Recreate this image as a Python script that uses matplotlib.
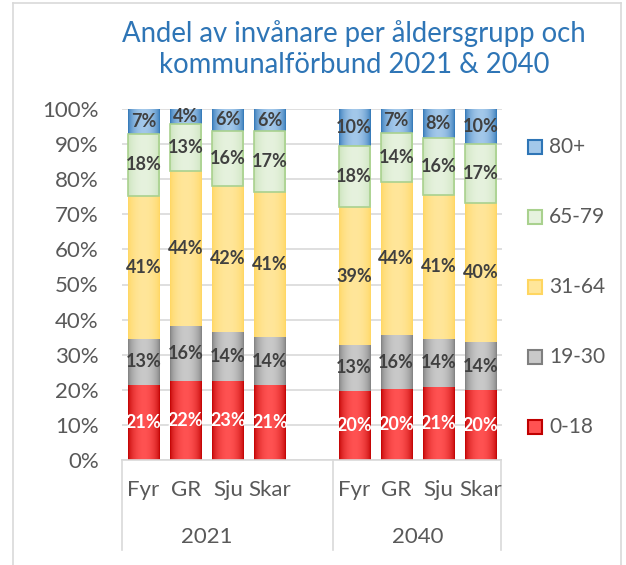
import numpy as np
import matplotlib.pyplot as plt
from matplotlib.patches import Rectangle
from matplotlib.lines import Line2D
from matplotlib.colors import to_rgb

plt.rcParams['font.family'] = ['Lato', 'DejaVu Sans']

years = ["2021", "2040"]
regions = ["Fyr", "GR", "Sju", "Skar"]
age_groups = ["0-18", "19-30", "31-64", "65-79", "80+"]

# andel (%) per åldersgrupp, ordning: Fyr, GR, Sju, Skar
share_2021 = {
    "0-18":  [21.4, 22.4, 22.6, 21.3],
    "19-30": [13.1, 15.8, 14.0, 13.7],
    "31-64": [40.7, 44.2, 41.6, 41.3],
    "65-79": [17.7, 13.2, 15.6, 17.3],
    "80+":   [7.1, 4.4, 6.2, 6.4],
}
share_2040 = {
    "0-18":  [19.8, 20.1, 20.8, 19.9],
    "19-30": [13.0, 15.6, 13.8, 13.6],
    "31-64": [39.2, 43.6, 41.0, 39.7],
    "65-79": [17.6, 13.9, 16.0, 16.8],
    "80+":   [10.4, 6.8, 8.4, 10.0],
}

# (kant, mitt) för gradient, kantlinje, etikettfärg
styles = {
    "0-18":  ("#C00000", "#FF5252", None, "white"),
    "19-30": ("#7F7F7F", "#C9C9C9", None, "#404040"),
    "31-64": ("#FFD660", "#FFE69A", None, "#404040"),
    "65-79": ("#C9E2B8", "#E6F2DE", "#A9D18E", "#404040"),
    "80+":   ("#2E75B6", "#A3C8EA", None, "#404040"),
}

W, H = 626, 565
fig = plt.figure(figsize=(W / 100, H / 100), dpi=100)
ax = fig.add_axes([122.5 / W, 1 - 460 / H, 379 / W, 351 / H])

positions = [0, 1, 2, 3, 5, 6, 7, 8]
width = 0.74
tt = np.linspace(0, 1, 64)
mix = np.sin(np.pi * tt) ** 0.6


def gradient(edge, center):
    e = np.array(to_rgb(edge))
    c = np.array(to_rgb(center))
    img = e[None, :] * (1 - mix[:, None]) + c[None, :] * mix[:, None]
    return img[None, :, :]


for yi, data in enumerate([share_2021, share_2040]):
    bottoms = np.zeros(len(regions))
    for grp in age_groups:
        vals = np.array(data[grp]) / 100
        edge, center, border, lblc = styles[grp]
        img = gradient(edge, center)
        for i, v in enumerate(vals):
            x = positions[yi * 4 + i]
            b = bottoms[i]
            ax.imshow(img, extent=(x - width / 2, x + width / 2, b, b + v),
                      aspect='auto', zorder=2, interpolation='bilinear')
            if border:
                ax.add_patch(Rectangle((x - width / 2, b), width, v, fill=False,
                                       edgecolor=border, lw=1.2, zorder=3))
            ax.text(x, b + v / 2, f"{round(v * 100):.0f}%", ha='center', va='center',
                    fontsize=13, fontweight='bold', color=lblc, zorder=4)
        bottoms += vals

ax.set_xlim(-0.5, 8.5)
ax.set_ylim(0, 1)
ax.set_yticks(np.arange(0, 1.01, 0.1))
ax.set_yticklabels([f"{int(round(t * 100))}%" for t in np.arange(0, 1.01, 0.1)])
ax.tick_params(axis='y', length=0, pad=17, labelsize=16, labelcolor='#595959')
ax.set_xticks([])
ax.grid(axis='y', color='#D9D9D9', lw=1.2, zorder=0)
ax.set_axisbelow(True)
for s in ['top', 'right', 'left']:
    ax.spines[s].set_visible(False)
ax.spines['bottom'].set_color('#D9D9D9')
ax.spines['bottom'].set_linewidth(1.2)

# kategoritabell under axeln
tr = ax.get_xaxis_transform()
for yi, yr in enumerate(years):
    for i, r in enumerate(regions):
        ax.text(positions[yi * 4 + i], -0.085, r, transform=tr, ha='center', va='center',
                fontsize=16, color='#595959', clip_on=False)
ax.text(1.5, -0.219, years[0], transform=tr, ha='center', va='center',
        fontsize=16, color='#595959', clip_on=False)
ax.text(6.5, -0.219, years[1], transform=tr, ha='center', va='center',
        fontsize=16, color='#595959', clip_on=False)
for xs in [-0.5, 4.5, 8.5]:
    ax.add_line(Line2D([xs, xs], [0, -0.256], transform=tr, color='#D9D9D9',
                       lw=1.2, clip_on=False))

# titel
fig.text(354 / W, 1 - 49 / H, "Andel av invånare per åldersgrupp och\nkommunalförbund 2021 & 2040",
         ha='center', va='center', fontsize=19.8, color='#2E75B6', linespacing=1.27)

# legend
leg_y = [427, 357, 287, 217, 147]
for grp, ly in zip(age_groups, leg_y):
    edge, center, border, _ = styles[grp]
    fig.patches.append(Rectangle((528 / W, 1 - (ly + 7) / H), 14 / W, 14 / H,
                                 transform=fig.transFigure, facecolor=center,
                                 edgecolor=border or edge, lw=1.5))
    fig.text(549 / W, 1 - ly / H, grp, ha='left', va='center', fontsize=15, color='#595959')

# ram
for xs, ys in [([13, 13], [3, 565]), ([621, 621], [3, 565]), ([13, 621], [3, 3])]:
    fig.add_artist(Line2D([x / W for x in xs], [1 - y / H for y in ys],
                          transform=fig.transFigure, color='#D9D9D9', lw=1.2))

fig.savefig("out.png", dpi=100)
